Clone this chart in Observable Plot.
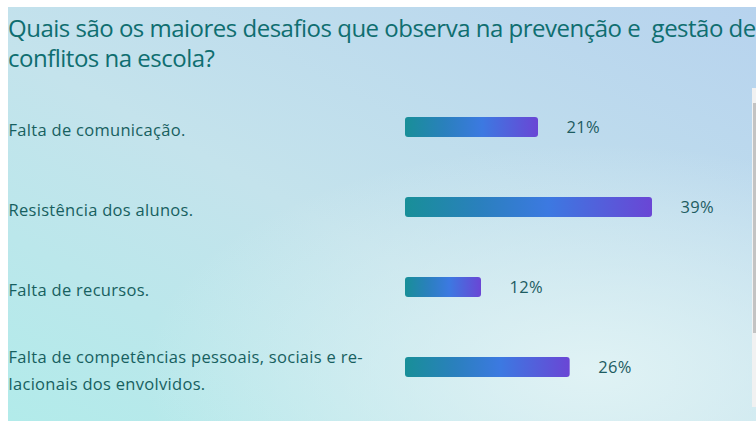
<!DOCTYPE html>
<html>
<head>
<meta charset="utf-8">
<script src="https://cdn.jsdelivr.net/npm/d3@7"></script>
<script src="https://cdn.jsdelivr.net/npm/@observablehq/plot@0.6"></script>
<style>
  html, body { margin: 0; padding: 0; background: #ffffff; }
  body { width: 756px; height: 424px; position: relative; overflow: hidden; }
  #wrap {
    position: absolute; left: 8px; top: 7px; width: 748px; height: 414px; overflow: hidden;
    background:
      radial-gradient(ellipse 60% 55% at 78% 88%, rgba(225,243,245,0.95), rgba(225,243,245,0) 100%),
      linear-gradient(to top right, #b2ebea 0%, #c4e3ec 45%, #b7d3ee 100%);
  }
  #title {
    font-family: "Open Sans", "Noto Sans", sans-serif;
    font-size: 24px; line-height: 30px; color: #0f6e70; letter-spacing: -0.5px;
    white-space: pre; height: 80px; padding-top: 6px; box-sizing: border-box;
  }
  #chart svg { display: block; background: transparent; }
  #track { position: absolute; left: 752px; top: 88px; width: 4px; height: 319px; background: #f1f1f1; }
  #thumb { position: absolute; left: 753px; top: 103px; width: 3px; height: 230px; background: #c3c3c3; }
</style>
</head>
<body>
<div id="wrap">
  <div id="title"></div>
  <div id="chart"></div>
</div>
<div id="track"></div>
<div id="thumb"></div>
<script>
const titleLines = [
  "Quais são os maiores desafios que observa na prevenção e  gestão de",
  "conflitos na escola?"
];
const categories = [
  "Falta de comunicação.",
  "Resistência dos alunos.",
  "Falta de recursos.",
  "Falta de competências pessoais, sociais e re-\nlacionais dos envolvidos."
];
const values = [21, 39, 12, 26];

document.getElementById("title").textContent = titleLines.join("\n");

const data = categories.map((c, i) => ({category: c, value: values[i]}));

const W = 748, H = 334;
const chart = Plot.plot({
  width: W,
  height: H,
  marginLeft: 397,
  marginRight: 104,
  marginTop: 0,
  marginBottom: 14,
  style: {background: "transparent", fontFamily: "'Open Sans', 'Noto Sans', sans-serif", letterSpacing: "0.3px"},
  x: {domain: [0, d3.max(values)], axis: null},
  y: {domain: categories, axis: null, paddingInner: 0.756, paddingOuter: 0.378},
  marks: [
    Plot.barX(data, {y: "category", x: "value", fill: "url(#barGrad)", rx: 3}),
    Plot.text(data, {
      y: "category", x: "value", text: d => d.value + "%",
      textAnchor: "start", dx: 28, fontSize: 16.5, fill: "#1d5c61"
    }),
    Plot.text(data, {
      y: "category", text: "category", frameAnchor: "left", dx: -397,
      textAnchor: "start", fontSize: 16.5, lineHeight: 1.65, fill: "#17605f"
    })
  ]
});

const ns = "http://www.w3.org/2000/svg";
const defs = document.createElementNS(ns, "defs");
const grad = document.createElementNS(ns, "linearGradient");
grad.setAttribute("id", "barGrad");
grad.setAttribute("x1", "0"); grad.setAttribute("x2", "1");
grad.setAttribute("y1", "0"); grad.setAttribute("y2", "0");
[["0%", "#188f98"], ["30%", "#2a80bd"], ["58%", "#3c79e1"], ["100%", "#6a46d5"]].forEach(([o, c]) => {
  const s = document.createElementNS(ns, "stop");
  s.setAttribute("offset", o); s.setAttribute("stop-color", c);
  grad.appendChild(s);
});
defs.appendChild(grad);
chart.insertBefore(defs, chart.firstChild);

document.getElementById("chart").appendChild(chart);
</script>
</body>
</html>
